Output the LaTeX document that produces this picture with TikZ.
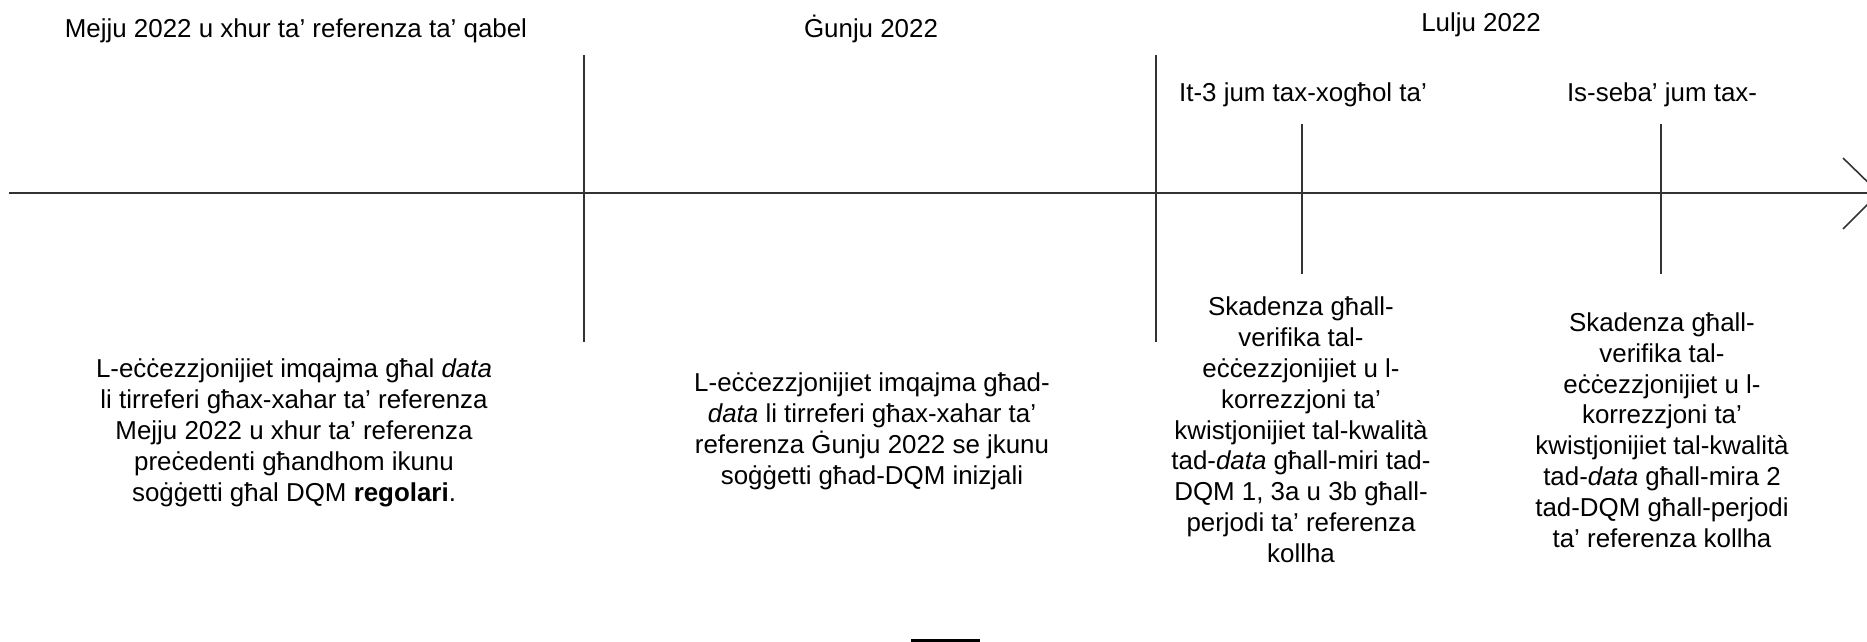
\documentclass[tikz,border=0pt]{standalone}
\usepackage{fontspec}
\setmainfont{Liberation Sans}
\begin{document}
\begin{tikzpicture}[x=1pt,y=-1pt,
  axisline/.style={line width=1.6pt, draw=black!80},
  lbl/.style={font=\fontsize{25.9}{29}\selectfont, inner sep=0pt, anchor=base},
  blk/.style={font=\fontsize{25.9}{30.8}\selectfont, inner sep=0pt, align=center, anchor=north}]
\useasboundingbox (0,0) rectangle (1867,641);
\clip (0,0) rectangle (1867,641);
% axis
\coordinate (start) at (9,193);
\coordinate (tip) at (1879,193);
\coordinate (barbA) at (1843,158);
\coordinate (barbB) at (1843,229);
\draw[axisline] (start) -- (tip);
\draw[axisline] (barbA) -- (tip) -- (barbB);
% long dividers
\coordinate (d1t) at (584,55);
\coordinate (d1b) at (584,342);
\coordinate (d2t) at (1156,55);
\coordinate (d2b) at (1156,342);
\draw[axisline] (d1t) -- (d1b);
\draw[axisline] (d2t) -- (d2b);
% short ticks
\coordinate (t1t) at (1302,124);
\coordinate (t1b) at (1302,274);
\coordinate (t2t) at (1661,124);
\coordinate (t2b) at (1661,274);
\draw[axisline] (t1t) -- (t1b);
\draw[axisline] (t2t) -- (t2b);
% bottom bar
\coordinate (bl) at (911,640);
\coordinate (br) at (980,640);
\draw[line width=3pt] (bl) -- (br);
% top labels
\node[lbl] (may) at (296,37) {Mejju 2022 u xhur ta’ referenza ta’ qabel};
\node[lbl] (jun) at (871,37) {Ġunju 2022};
\node[lbl] (jul) at (1481,31) {Lulju 2022};
\node[lbl] (d3) at (1303,101) {It-3 jum tax-xogħol ta’};
\node[lbl] (d7) at (1662,101) {Is-seba’ jum tax-};
% bottom blocks
\node[blk] (bmay) at (294,359) {L-eċċezzjonijiet imqajma għal \textit{data}\\li tirreferi għax-xahar ta’ referenza\\Mejju 2022 u xhur ta’ referenza\\preċedenti għandhom ikunu\\soġġetti għal DQM \textbf{regolari}.};
\node[blk] (bjun) at (872,373) {L-eċċezzjonijiet imqajma għad-\\\textit{data} li tirreferi għax-xahar ta’\\referenza Ġunju 2022 se jkunu\\soġġetti għad-DQM inizjali};
\node[blk] (b3) at (1301,297) {Skadenza għall-\\verifika tal-\\eċċezzjonijiet u l-\\korrezzjoni ta’\\kwistjonijiet tal-kwalità\\tad-\textit{data} għall-miri tad-\\DQM 1, 3a u 3b għall-\\perjodi ta’ referenza\\kollha};
\node[blk] (b7) at (1662,312.5) {Skadenza għall-\\verifika tal-\\eċċezzjonijiet u l-\\korrezzjoni ta’\\kwistjonijiet tal-kwalità\\tad-\textit{data} għall-mira 2\\tad-DQM għall-perjodi\\ta’ referenza kollha};
\end{tikzpicture}
\end{document}
